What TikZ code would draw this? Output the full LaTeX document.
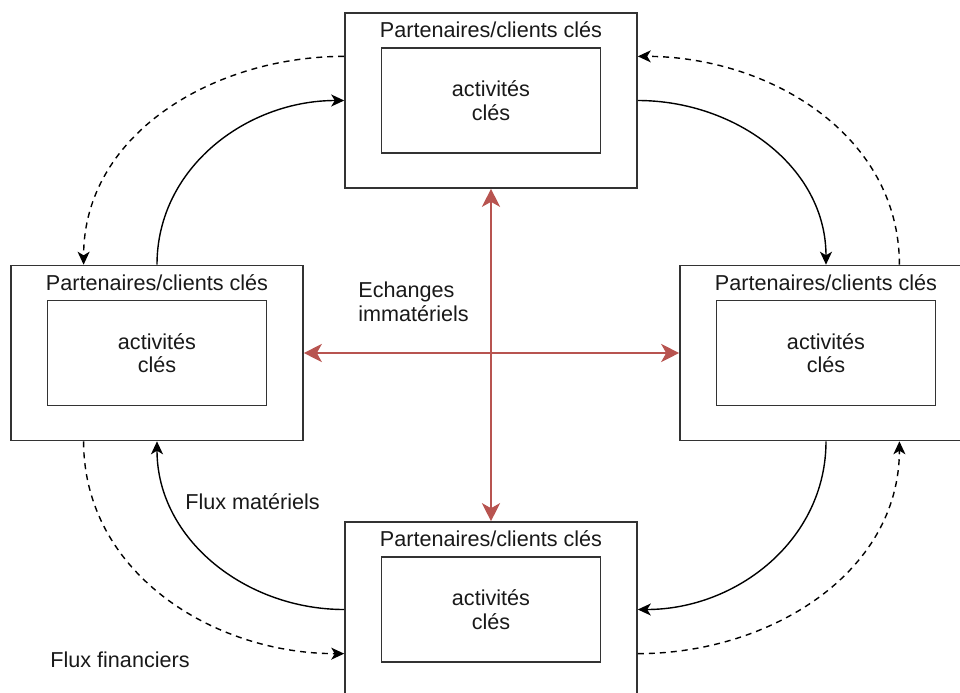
\documentclass[tikz,border=0pt]{standalone}
\usepackage{fontspec}
\setmainfont{Liberation Sans}
\usetikzlibrary{arrows.meta,calc,positioning}

\definecolor{exchred}{HTML}{B85450}
\definecolor{boxline}{HTML}{333333}

\tikzset{
    outerbox/.style={draw=boxline, line width=0.8pt, fill=white, minimum width=146pt, minimum height=87.5pt},
    innerbox/.style={draw=boxline, line width=0.8pt, minimum width=109.5pt, minimum height=52.5pt, align=center},
    boxtitle/.style={anchor=base, inner sep=0pt},
    flow/.style={->, line width=0.7pt},
    money/.style={->, line width=0.7pt, dash pattern=on 3pt off 2.5pt},
    exch/.style={{Stealth[length=9pt,width=9pt,inset=2.5pt]}-{Stealth[length=9pt,width=9pt,inset=2.5pt]}, draw=exchred, line width=1.3pt},
    note/.style={anchor=west, align=left, inner sep=0pt}
}

\begin{document}
\begin{tikzpicture}[x=0.5pt,y=-0.5pt,>={Stealth[length=6.5pt,width=6pt,inset=1.8pt]},
    font=\fontsize{10.8}{11.75}\selectfont, text=black!90]
    \useasboundingbox (0,0) rectangle (960,692);
    \clip (0,0) rectangle (960,692);

    \node[outerbox] (T) at (491,100.5) {};
    \node[outerbox] (L) at (157,353) {};
    \node[outerbox] (R) at (826,353) {};
    \node[outerbox] (B) at (491,609.5) {};

    \node[innerbox] (Ti) at (T.center) {activités\\clés};
    \node[innerbox] (Li) at (L.center) {activités\\clés};
    \node[innerbox] (Ri) at (R.center) {activités\\clés};
    \node[innerbox] (Bi) at (B.center) {activités\\clés};

    \node[boxtitle] (Tt) at ([yshift=-12.75pt]T.north) {Partenaires/clients clés};
    \node[boxtitle] (Lt) at ([yshift=-12.75pt]L.north) {Partenaires/clients clés};
    \node[boxtitle] (Rt) at ([yshift=-12.75pt]R.north) {Partenaires/clients clés};
    \node[boxtitle] (Bt) at ([yshift=-12.75pt]B.north) {Partenaires/clients clés};

    \draw[exch] (T.south) -- (B.north);
    \draw[exch] (L.east) -- (R.west);

    \path (L.north) edge[flow, out=90, in=180] (T.west);
    \path (T.east) edge[flow, out=0, in=90] (R.north);
    \path (R.south) edge[flow, out=-90, in=0] (B.east);
    \path (B.west) edge[flow, out=180, in=-90] (L.south);

    \path ($(T.north west)!.25!(T.south west)$) edge[money, out=180, in=90] ($(L.north west)!.25!(L.north east)$);
    \path ($(R.north west)!.75!(R.north east)$) edge[money, out=90, in=0] ($(T.north east)!.25!(T.south east)$);
    \path ($(B.north east)!.75!(B.south east)$) edge[money, out=0, in=-90] ($(R.south west)!.75!(R.south east)$);
    \path ($(L.south west)!.25!(L.south east)$) edge[money, out=-90, in=180] ($(B.north west)!.75!(B.south west)$);

    \node[note] (ech) at (358,302) {Echanges\\immatériels};
    \node[note] (fmat) at (185,502) {Flux matériels};
    \node[note] (ffin) at (50,660) {Flux financiers};
\end{tikzpicture}
\end{document}
